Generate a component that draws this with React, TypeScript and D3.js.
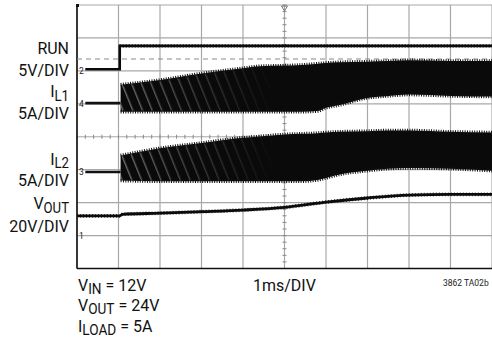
import React from 'react';
import * as d3 from 'd3';

// ---------- data (read from the scope shot) ----------
// time axis: 1ms/DIV, 10 divisions
const timeDivisions = [0, 1, 2, 3, 4, 5, 6, 7, 8, 9, 10];
const ampDivisions = [-4, -3, -2, -1, 0, 1, 2, 3, 4];

// RUN (5V/DIV, ground marker "2")
const runTime = [0.2, 1.03, 1.03, 10];
const runVolts = [0.25, 0.25, 3.8, 3.8];
const runTriggerVolts = 1.8;

// inductor currents (5A/DIV), envelope of the switching band
const ilTime = [1.05, 2, 3, 4, 4.4, 5, 5.4, 5.8, 6, 6.3, 7, 7.5, 8, 9, 10];
const il1Top = [2.9, 3.6, 4.6, 5.4, 5.7, 5.8, 5.9, 6.1, 6.2, 6.3, 6.4, 6.5, 6.6, 6.5, 6.5];
const il1Bottom = [-1.2, -1.2, -1.2, -1.2, -1.2, -1.2, -1.2, -1.1, -0.6, -0.2, 0.9, 1.2, 1.4, 1.2, 1.1];
const il2Top = [2.5, 3.6, 4.4, 5.2, 5.4, 5.7, 5.8, 5.9, 6.0, 6.1, 6.2, 6.3, 6.3, 6.1, 6.0];
const il2Bottom = [-1.3, -1.4, -1.4, -1.4, -1.4, -1.4, -1.4, -1.2, -0.9, -0.4, 0.2, 0.5, 0.6, 0.5, 0.2];
const idleTime = [0.2, 1.05];
const il1Idle = [0.1, 0.1];
const il2Idle = [0, 0];

// VOUT (20V/DIV, ground marker "1")
const voutTime = [0, 1.02, 1.1, 2, 3, 4, 5, 6, 7, 8, 9, 10];
const voutVolts = [12, 12, 12.9, 13.6, 14.5, 15.5, 17.1, 20.3, 22.8, 24.6, 25.0, 25.0];

// channel ground offsets (divisions) and scale (units / div)
const channels = [
  { marker: '2', offset: 2.0, perDiv: 5 },
  { marker: '4', offset: 1.0, perDiv: 5 },
  { marker: '3', offset: -1.07, perDiv: 5 },
  { marker: '1', offset: -3.0, perDiv: 20 },
];

// ---------- layout ----------
const W = 492;
const H = 343;
const PL = 77, PR = 492, PT = 5, PB = 268.5;
const FONT = 'Roboto, Arial, sans-serif';
const SX = 0.94;

const x = d3.scaleLinear().domain([0, 10]).range([PL, PR]);
const y = d3.scaleLinear().domain([-4, 4]).range([PB, PT]);
const chY = (ci: number) => (v: number) => y(channels[ci].offset + v / channels[ci].perDiv);

type Pt = { t: number; v: number };
const zip = (ts: number[], vs: number[]): Pt[] => ts.map((t, i) => ({ t, v: vs[i] }));

function Label({ x0, y0, anchor, main, sub, rest, dy = 3.5, subSize = 14 }: any) {
  return (
    <text transform={`translate(${x0},${y0}) scale(${SX},1)`} textAnchor={anchor} fontFamily={FONT} fontSize={17} fill="#111">
      {main}
      {sub && <tspan fontSize={subSize} dy={dy}>{sub}</tspan>}
      {rest && <tspan fontSize={17} dy={-dy}>{rest}</tspan>}
    </text>
  );
}

function Band({ ci, top, bottom, idle }: any) {
  const yc = chY(ci);
  const pts = ilTime.map((t, i) => ({ t, hi: top[i], lo: bottom[i] }));
  const area = d3.area<any>().x(d => x(d.t)).y0(d => yc(d.lo)).y1(d => yc(d.hi)).curve(d3.curveMonotoneX);
  const edgeTop = d3.line<any>().x(d => x(d.t)).y(d => yc(d.hi)).curve(d3.curveMonotoneX);
  const edgeBot = d3.line<any>().x(d => x(d.t)).y(d => yc(d.lo)).curve(d3.curveMonotoneX);
  const idleLine = d3.line<Pt>().x(d => x(d.t)).y(d => yc(d.v));
  return (
    <g>
      <path d={idleLine(zip(idleTime, idle)) || ''} stroke="#111" strokeWidth={2.6} fill="none" />
      <path d={area(pts) || ''} fill="#0a0a0a" />
      <path d={area(pts) || ''} fill="url(#stripes)" mask="url(#fade)" />
      <path d={edgeTop(pts) || ''} stroke="#111" strokeWidth={3.5} strokeDasharray="1 1.4" fill="none" />
      <path d={edgeBot(pts) || ''} stroke="#111" strokeWidth={3.5} strokeDasharray="1 1.4" fill="none" />
    </g>
  );
}

export default function App() {
  const yRun = chY(0);
  const yOut = chY(3);
  const runLine = d3.line<Pt>().x(d => x(d.t)).y(d => yRun(d.v));
  const voutLine = d3.line<Pt>().x(d => x(d.t)).y(d => yOut(d.v)).curve(d3.curveMonotoneX);
  const runPts = zip(runTime, runVolts);
  const voutPts = zip(voutTime, voutVolts);

  const cx = x(5);
  const cy = y(0);
  const vTicks = d3.range(-4, 4.001, 0.2);
  const hTicks = d3.range(0, 10.001, 0.2);

  return (
    <svg width={W} height={H} style={{ position: 'absolute', left: 0, top: 0, background: '#fff' }}>
      <defs>
        <pattern id="stripes" width={9} height={40} patternUnits="userSpaceOnUse" patternTransform="rotate(-22)">
          <rect x={0} y={0} width={1.4} height={40} fill="#8a8a8a" />
        </pattern>
        <linearGradient id="fadeGrad" x1={x(1)} x2={x(4.8)} y1={0} y2={0} gradientUnits="userSpaceOnUse">
          <stop offset="0" stopColor="#fff" stopOpacity={0.8} />
          <stop offset="1" stopColor="#fff" stopOpacity={0} />
        </linearGradient>
        <mask id="fade" maskUnits="userSpaceOnUse" x={0} y={0} width={W} height={H}>
          <rect x={0} y={0} width={W} height={H} fill="url(#fadeGrad)" />
        </mask>
      </defs>

      {/* grid */}
      <g stroke="#a8a8a8" strokeWidth={1.2}>
        {timeDivisions.map(t => (
          <line key={'v' + t} x1={x(t)} x2={x(t)} y1={PT} y2={PB} />
        ))}
        {ampDivisions.map(d => (
          <line key={'h' + d} x1={PL} x2={PR} y1={y(d)} y2={y(d)} />
        ))}
      </g>
      {/* center ticks */}
      <g stroke="#888" strokeWidth={1}>
        {vTicks.map((d, i) => (
          <line key={'vt' + i} x1={cx - 2} x2={cx + 2} y1={y(d)} y2={y(d)} />
        ))}
        {hTicks.map((t, i) => (
          <line key={'ht' + i} x1={x(t)} x2={x(t)} y1={cy - 2} y2={cy + 2} />
        ))}
      </g>
      {/* trigger marker */}
      <path d={`M${cx - 3},${PT + 1} L${cx + 3},${PT + 1} L${cx},${PT + 6} Z`} fill="none" stroke="#777" strokeWidth={1} />
      {/* frame */}
      <line x1={PL} x2={PL} y1={PT} y2={PB} stroke="#111" strokeWidth={1.6} />
      <line x1={PL} x2={PR} y1={PB} y2={PB} stroke="#111" strokeWidth={1.6} />
      <rect x={PL - 1} y={PT - 1} width={3} height={3} fill="#111" />

      {/* trigger level */}
      <line x1={PL} x2={PR} y1={yRun(runTriggerVolts)} y2={yRun(runTriggerVolts)} stroke="#8a8a8a" strokeWidth={1.1} strokeDasharray="5 4" />

      {/* channel markers */}
      {channels.map(c => (
        <text key={c.marker} x={79} y={y(c.offset) + 3} fontFamily={FONT} fontSize={8.5} fill="#222">{c.marker}</text>
      ))}

      {/* RUN */}
      <path d={runLine(runPts) || ''} stroke="#0a0a0a" strokeWidth={2.6} fill="none" />
      <path d={runLine(runPts.slice(2)) || ''} stroke="#111" strokeWidth={3.6} strokeDasharray="0.8 2.2" fill="none" />

      {/* IL1, IL2 */}
      <Band ci={1} top={il1Top} bottom={il1Bottom} idle={il1Idle} />
      <Band ci={2} top={il2Top} bottom={il2Bottom} idle={il2Idle} />

      {/* VOUT */}
      <path d={voutLine(voutPts) || ''} stroke="#0a0a0a" strokeWidth={2.8} fill="none" />
      <path d={voutLine(voutPts) || ''} stroke="#111" strokeWidth={3.8} strokeDasharray="0.8 2.2" fill="none" />

      {/* left labels */}
      <Label x0={69} y0={54} anchor="end" main="RUN" />
      <Label x0={69} y0={76} anchor="end" main="5V/DIV" />
      <Label x0={69} y0={97} anchor="end" main="I" sub="L1" />
      <Label x0={69} y0={119} anchor="end" main="5A/DIV" />
      <Label x0={69} y0={164.5} anchor="end" main="I" sub="L2" />
      <Label x0={69} y0={186} anchor="end" main="5A/DIV" />
      <Label x0={69} y0={209} anchor="end" main="V" sub="OUT" />
      <Label x0={69} y0={231.5} anchor="end" main="20V/DIV" />

      {/* bottom labels */}
      <Label x0={78} y0={291} anchor="start" main="V" sub="IN" rest=" = 12V" dy={3} subSize={14.5} />
      <Label x0={78} y0={310.5} anchor="start" main="V" sub="OUT" rest=" = 24V" dy={3} subSize={14.5} />
      <Label x0={78} y0={331.5} anchor="start" main="I" sub="LOAD" rest=" = 5A" dy={3} subSize={14.5} />
      <Label x0={253} y0={291} anchor="start" main="1ms/DIV" />
      <text x={443} y={285.5} fontFamily={FONT} fontSize={8.5} fill="#222">3862 TA02b</text>
    </svg>
  );
}
